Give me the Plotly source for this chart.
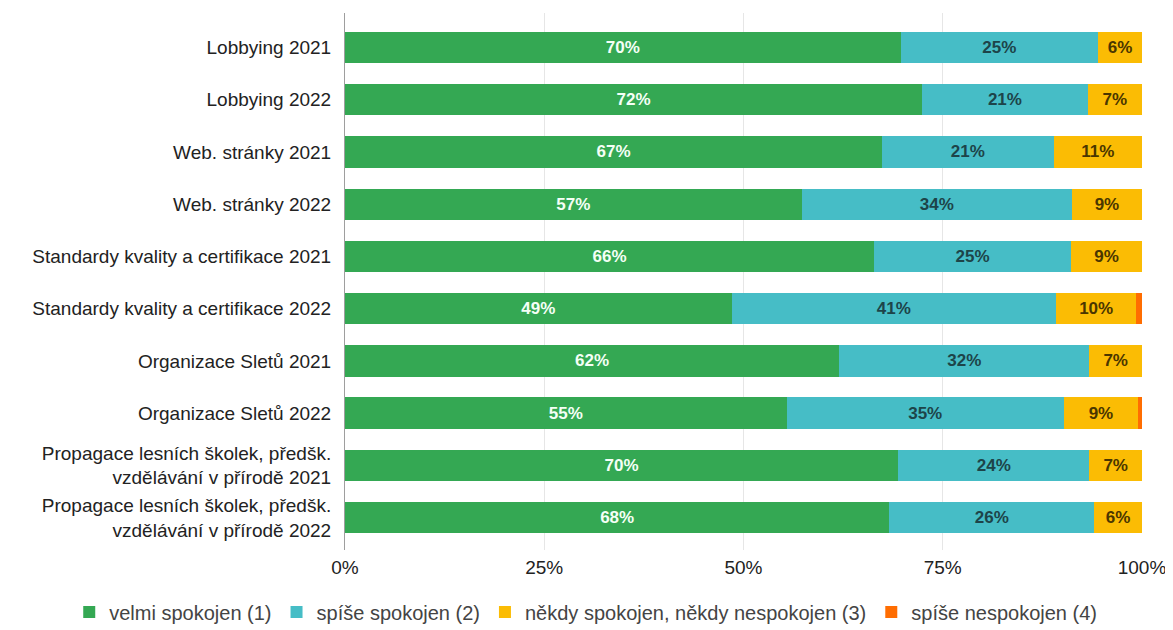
import plotly.graph_objects as go

categories = [
    "Lobbying 2021",
    "Lobbying 2022",
    "Web. stránky 2021",
    "Web. stránky 2022",
    "Standardy kvality a certifikace 2021",
    "Standardy kvality a certifikace 2022",
    "Organizace Sletů 2021",
    "Organizace Sletů 2022",
    "Propagace lesních školek, předšk.<br>vzdělávání v přírodě 2021",
    "Propagace lesních školek, předšk.<br>vzdělávání v přírodě 2022",
]

series_names = [
    "velmi spokojen (1)",
    "spíše spokojen (2)",
    "někdy spokojen, někdy nespokojen (3)",
    "spíše nespokojen (4)",
]

velmi = [69.7, 72.4, 67.4, 57.3, 66.4, 48.5, 62.0, 55.4, 69.4, 68.3]
spise = [24.8, 20.8, 21.5, 33.9, 24.7, 40.7, 31.4, 34.8, 24.0, 25.7]
nekdy = [5.5, 6.8, 11.1, 8.8, 8.9, 10.1, 6.6, 9.3, 6.6, 6.0]
nespok = [0.0, 0.0, 0.0, 0.0, 0.0, 0.7, 0.0, 0.5, 0.0, 0.0]

velmi_lbl = ["70%", "72%", "67%", "57%", "66%", "49%", "62%", "55%", "70%", "68%"]
spise_lbl = ["25%", "21%", "21%", "34%", "25%", "41%", "32%", "35%", "24%", "26%"]
nekdy_lbl = ["6%", "7%", "11%", "9%", "9%", "10%", "7%", "9%", "7%", "6%"]
nespok_lbl = [""] * 10

x_ticks = [0, 25, 50, 75, 100]
x_tick_labels = ["0%", "25%", "50%", "75%", "100%"]

colors = ["#34a853", "#46bdc6", "#fbbc04", "#ff6d01"]
text_colors = ["#f4fff6", "#1d4449", "#4a3600", "#ffffff"]

FONT = "Liberation Sans, Arial, sans-serif"

fig = go.Figure()
for name, vals, lbls, col, tcol in zip(
    series_names,
    [velmi, spise, nekdy, nespok],
    [velmi_lbl, spise_lbl, nekdy_lbl, nespok_lbl],
    colors,
    text_colors,
):
    fig.add_trace(go.Bar(
        y=categories,
        x=vals,
        name=name,
        orientation="h",
        marker=dict(color=col, line=dict(width=0)),
        text=lbls,
        textposition="inside",
        insidetextanchor="middle",
        textangle=0,
        textfont=dict(color=tcol, size=17, family=FONT, weight="bold"),
        hoverinfo="x+y+name",
    ))

fig.update_layout(
    barmode="stack",
    bargap=0.4,
    width=1173,
    height=630,
    margin=dict(l=337, r=39, t=5, b=88, autoexpand=False),
    paper_bgcolor="white",
    plot_bgcolor="white",
    font=dict(family=FONT, size=19, color="#222222"),
    uniformtext=dict(minsize=8, mode="show"),
    xaxis=dict(
        range=[0, 100],
        tickvals=x_ticks,
        ticktext=x_tick_labels,
        tickangle=0,
        showgrid=True,
        gridcolor="#e6e6e6",
        gridwidth=1,
        zeroline=False,
        showline=False,
        ticks="",
        ticklabelstandoff=4,
        tickfont=dict(size=19, color="#222222"),
        fixedrange=True,
    ),
    yaxis=dict(
        categoryorder="array",
        categoryarray=categories,
        range=[9.62, -0.66],
        showline=True,
        linecolor="#9e9e9e",
        linewidth=1,
        showgrid=False,
        ticks="",
        ticklabelstandoff=9,
        tickfont=dict(size=19, color="#222222"),
    ),
    legend=dict(
        orientation="h",
        x=-0.346,
        xanchor="left",
        y=-0.1155,
        yanchor="middle",
        font=dict(size=20, color="#444444"),
        traceorder="normal",
    ),
)

fig.write_html("out.html")
